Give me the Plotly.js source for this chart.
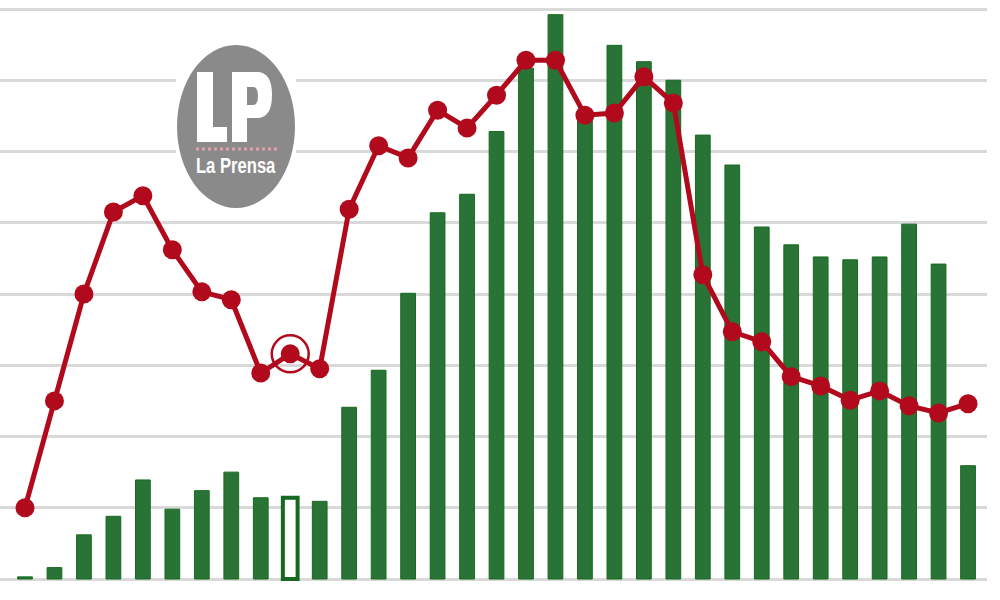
<!DOCTYPE html>
<html>
<head>
<meta charset="utf-8">
<script src="https://cdn.plot.ly/plotly-3.0.1.min.js"></script>
<style>
  html, body { margin: 0; padding: 0; background: #ffffff; }
  #chart { width: 1000px; height: 600px; }
</style>
</head>
<body>
<div id="chart"></div>
<script>
// ---- data (in gridline units: one gridline = 10) ----
const periods = Array.from({length: 33}, (_, i) => i + 1);
const barValues = [0.3, 1.6, 6.2, 8.8, 13.9, 9.8, 12.4, 15.0, 11.4, 11.4, 10.9,
                   24.1, 29.3, 40.1, 51.4, 54.0, 62.8, 71.7, 79.2, 65.5, 74.9,
                   72.6, 70.0, 62.3, 58.1, 49.4, 46.9, 45.2, 44.8, 45.2, 49.8,
                   44.2, 15.9];
const lineValues = [10.0, 25.0, 40.0, 51.5, 53.8, 46.2, 40.3, 39.2, 28.9, 31.6, 29.5,
                    51.9, 60.8, 59.1, 65.8, 63.3, 67.9, 72.8, 72.8, 65.1, 65.4,
                    70.5, 66.8, 42.7, 34.7, 33.3, 28.4, 27.1, 25.1, 26.4, 24.3,
                    23.3, 24.6];
const highlightIndex = 9;   // hollow bar and ringed point
const gridTicks = [0, 10, 20, 30, 40, 50, 60, 70, 80];

const green = '#2a7337';
const greenEdge = '#156a1f';
const red = '#b10a1c';

const barColors = barValues.map((_, i) => i === highlightIndex ? '#ffffff' : green);
const barLineWidths = barValues.map((_, i) => i === highlightIndex ? 4 : 1);

// pixel -> paper helpers for the logo
const W = 1000, H = 600;
const px = x => x / W;
const py = y => 1 - y / H;
function pathPx(s) {
  return s.replace(/(-?\d+(?:\.\d+)?),(-?\d+(?:\.\d+)?)/g,
    (m, a, b) => px(+a).toFixed(5) + ',' + py(+b).toFixed(5));
}

const traces = [
  {
    type: 'bar',
    x: periods,
    y: barValues,
    width: 0.5,
    marker: { color: barColors, line: { color: greenEdge, width: barLineWidths } },
    hoverinfo: 'skip'
  },
  {
    type: 'scatter',
    mode: 'lines+markers',
    x: periods,
    y: lineValues,
    line: { color: red, width: 5 },
    marker: { color: red, size: 19 },
    hoverinfo: 'skip'
  },
  {
    type: 'scatter',
    mode: 'markers',
    x: [periods[highlightIndex]],
    y: [lineValues[highlightIndex]],
    marker: { symbol: 'circle-open', size: 37, color: red, line: { color: red, width: 2.5 } },
    hoverinfo: 'skip'
  }
];

const step = 29.47;
const x0 = 1 - 25 / step;
const domainEnd = 0.987;
const x1 = x0 + (W * domainEnd) / step;

const unitsPerPx = 80 / (579 - 9);
const yRange = [-(H - 579) * unitsPerPx, 579 * unitsPerPx];

const layout = {
  width: W, height: H,
  margin: { l: 0, r: 0, t: 0, b: 0, pad: 0 },
  paper_bgcolor: '#ffffff',
  plot_bgcolor: '#ffffff',
  showlegend: false,
  xaxis: {
    domain: [0, domainEnd],
    range: [x0, x1],
    showgrid: false, zeroline: false, showline: false,
    showticklabels: false, ticks: ''
  },
  yaxis: {
    range: yRange,
    tickmode: 'array',
    tickvals: gridTicks,
    showgrid: true, gridcolor: '#d9d9d9', gridwidth: 3,
    zeroline: false, showline: false, showticklabels: false, ticks: ''
  },
  shapes: [
    { type: 'rect', xref: 'paper', yref: 'paper', layer: 'above',
      x0: px(176), x1: px(296), y0: py(212), y1: py(40),
      fillcolor: '#ffffff', line: { width: 0 } },
    { type: 'circle', xref: 'paper', yref: 'paper', layer: 'above',
      x0: px(177), x1: px(295), y0: py(208), y1: py(45),
      fillcolor: '#8a8a8a', line: { width: 0 } },
    { type: 'path', xref: 'paper', yref: 'paper', layer: 'above',
      path: pathPx('M197,72 L213,72 L213,127 L227,127 L227,142 L197,142 Z'),
      fillcolor: '#ffffff', line: { width: 0 } },
    { type: 'path', xref: 'paper', yref: 'paper', layer: 'above', fillrule: 'evenodd',
      path: pathPx('M232,72 L257,72 Q272,72 272,95 Q272,118 257,118 L247,118 L247,142 L232,142 Z ' +
                   'M247,87 L253,87 Q258,87 258,96 Q258,105 253,105 L247,105 Z'),
      fillcolor: '#ffffff', line: { width: 0 } },
    { type: 'line', xref: 'paper', yref: 'paper', layer: 'above',
      x0: px(196), x1: px(277), y0: py(149), y1: py(149),
      line: { color: '#e3a0a8', width: 3, dash: 'dot' } }
  ],
  annotations: [
    { xref: 'paper', yref: 'paper', x: px(236), y: py(166),
      xanchor: 'center', yanchor: 'middle', showarrow: false,
      text: '<b>La Prensa</b>',
      font: { family: 'Liberation Sans, Arial, sans-serif', size: 22, color: '#ffffff' } }
  ]
};

Plotly.newPlot('chart', traces, layout, { staticPlot: true, displayModeBar: false }).then(gd => {
  // condense the logo wordmark horizontally to fit the badge
  gd.querySelectorAll('.annotation-text').forEach(t => {
    const b = t.getBBox();
    const cx = b.x + b.width / 2;
    const target = 80;
    const s = Math.min(1, target / b.width);
    t.setAttribute('transform', `translate(${cx},0) scale(${s},1) translate(${-cx},0)`);
  });
});
</script>
</body>
</html>
